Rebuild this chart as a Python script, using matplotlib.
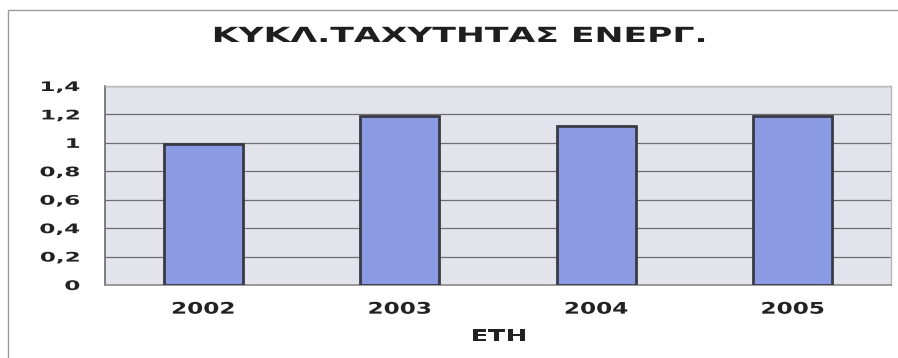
import matplotlib
matplotlib.use("Agg")
import matplotlib.pyplot as plt
from matplotlib.patheffects import AbstractPathEffect
from matplotlib.transforms import Affine2D
from matplotlib.patches import Rectangle

years = ["2002", "2003", "2004", "2005"]
values = [0.99, 1.19, 1.12, 1.19]
yticks = [0, 0.2, 0.4, 0.6, 0.8, 1.0, 1.2, 1.4]
ytick_labels = ["0", "0,2", "0,4", "0,6", "0,8", "1", "1,2", "1,4"]
title = "ΚΥΚΛ.ΤΑΧΥΤΗΤΑΣ ΕΝΕΡΓ."
xlabel = "ΕΤΗ"


class Stretch(AbstractPathEffect):
    """Widen glyphs horizontally about a chosen anchor of the text."""

    def __init__(self, sx, anchor="center"):
        super().__init__()
        self.sx = sx
        self.anchor = anchor

    def draw_path(self, renderer, gc, tpath, affine, rgbFace=None):
        ext = tpath.get_extents()
        x0 = {"left": ext.x0, "center": 0.5 * (ext.x0 + ext.x1), "right": ext.x1}[self.anchor]
        t = Affine2D().translate(-x0, 0).scale(self.sx, 1).translate(x0, 0) + affine
        renderer.draw_path(gc, tpath, t, rgbFace)


W, H = 898, 358
fig = plt.figure(figsize=(W / 100, H / 100), dpi=100)
fig.patch.set_facecolor("white")

# outer chart frame
fig.patches.append(Rectangle((8 / W, -0.1), 1.2, (H - 10) / H + 0.1,
                             transform=fig.transFigure, fill=False,
                             edgecolor="#9a9a9a", linewidth=1.0))

left, right, top, bottom = 105, 891, 86, 285
ax = fig.add_axes([left / W, (H - bottom) / H, (right - left) / W, (bottom - top) / H])
ax.set_facecolor("#e3e3eb")

x = list(range(len(years)))
ax.bar(x, values, width=0.4, color="#8a9be4", edgecolor="#3a3a46", linewidth=2.0, zorder=3)

ax.set_xlim(-0.5, len(years) - 0.5)
ax.set_ylim(0, 1.4)
ax.set_yticks(yticks)
ax.set_yticklabels(ytick_labels)
ax.set_xticks(x)
ax.set_xticklabels(years)

ax.yaxis.grid(True, color="#6e6e6e", linewidth=0.9, zorder=1)
ax.set_axisbelow(True)
ax.tick_params(axis="both", length=0, colors="#222222")
ax.tick_params(axis="y", pad=18, labelsize=9.5)
ax.tick_params(axis="x", pad=12, labelsize=11.5)

for s in ["top", "right"]:
    ax.spines[s].set_color("#b8b8b8")
    ax.spines[s].set_linewidth(1.0)
ax.spines["left"].set_color("#6a6a6a")
ax.spines["left"].set_linewidth(1.2)
ax.spines["bottom"].set_color("#8a8a8a")
ax.spines["bottom"].set_linewidth(1.2)

for lab in ax.get_yticklabels():
    lab.set_fontweight("bold")
    lab.set_path_effects([Stretch(1.75, "right")])
for lab in ax.get_xticklabels():
    lab.set_fontweight("bold")
    lab.set_path_effects([Stretch(1.45, "center")])

fig.text(213 / W, 1 - 42 / H, title, ha="left", va="baseline", fontsize=15,
         fontweight="heavy", color="#1e1e1e", path_effects=[Stretch(1.66, "left")])
fig.text(499 / W, 1 - 341 / H, xlabel, ha="center", va="baseline", fontsize=11.5,
         fontweight="bold", color="#222222", path_effects=[Stretch(1.6, "center")])

fig.savefig("out.png", dpi=100)
